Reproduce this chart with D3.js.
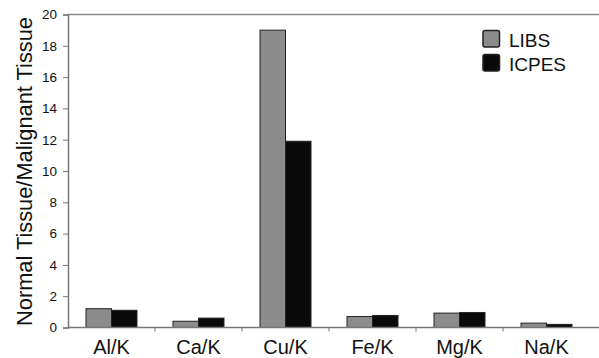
<!DOCTYPE html>
<html><head><meta charset="utf-8">
<script src="https://cdn.jsdelivr.net/npm/d3@7"></script>
<style>body{margin:0;background:#fff}svg{display:block}text{font-family:"Liberation Sans",Arial,sans-serif}</style>
</head><body>
<svg id="c" width="599" height="358"></svg>
<script>
const categories = ["Al/K","Ca/K","Cu/K","Fe/K","Mg/K","Na/K"];
const seriesNames = ["LIBS","ICPES"];
const libs = [1.2, 0.4, 19.0, 0.7, 0.92, 0.28];
const icpes = [1.1, 0.6, 11.9, 0.77, 0.96, 0.2];
const yTicks = [0,2,4,6,8,10,12,14,16,18,20];
const colors = {LIBS:"#8c8c8c", ICPES:"#0a0a0a"};

const svg = d3.select("#c");
const mLeft = 68, mRight = 590, mTop = 14.5, mBottom = 327.5;
const x0 = d3.scaleBand().domain(categories).range([mLeft, mRight]);
const x1 = d3.scaleBand().domain(seriesNames).range([0, x0.bandwidth()]).paddingOuter(0.706);
const y = d3.scaleLinear().domain([0,20]).range([mBottom, mTop]);
const vals = {LIBS: libs, ICPES: icpes};

// top frame line
svg.append("line").attr("x1", mLeft).attr("x2", 599).attr("y1", mTop).attr("y2", mTop)
  .attr("stroke","#8a8a8a").attr("stroke-width",1.5);

// bars
categories.forEach((c,i)=>{
  seriesNames.forEach(s=>{
    const v = vals[s][i];
    svg.append("rect")
      .attr("x", x0(c)+x1(s)).attr("width", x1.bandwidth())
      .attr("y", y(v)).attr("height", y(0)-y(v))
      .attr("fill", colors[s]).attr("stroke","#222").attr("stroke-width",1);
  });
});

// y axis
const ya = svg.append("g").attr("transform",`translate(${mLeft},0)`)
  .call(d3.axisLeft(y).tickValues(yTicks).tickSize(5).tickPadding(6));
ya.select(".domain").attr("stroke","#777").attr("stroke-width",1.5);
ya.selectAll(".tick line").attr("stroke","#777");
ya.selectAll("text").attr("font-size",13.5).attr("fill","#111");

// x axis
const xa = svg.append("g").attr("transform",`translate(0,${mBottom})`)
  .call(d3.axisBottom(x0).tickSize(0));
xa.select(".domain").attr("d",`M${mLeft},0H599`).attr("stroke","#777").attr("stroke-width",1.5);
xa.selectAll("text").attr("font-size",20).attr("fill","#111").attr("dy",0).attr("y",26);
// category separator ticks
xa.selectAll(".sep").data(categories.slice(1)).enter().append("line").attr("class","sep")
  .attr("x1",d=>x0(d)).attr("x2",d=>x0(d)).attr("y1",0).attr("y2",4).attr("stroke","#777");

// y title
svg.append("text").attr("transform",`translate(32,${(mTop+mBottom)/2 + 0.5}) rotate(-90)`)
  .attr("text-anchor","middle").attr("font-size",21.8).attr("fill","#111")
  .text("Normal Tissue/Malignant Tissue");

// legend
const lg = svg.append("g");
seriesNames.forEach((s,i)=>{
  lg.append("rect").attr("x",483).attr("y",30.5+i*24).attr("width",16.5).attr("height",16.5).attr("rx",2)
    .attr("fill",colors[s]).attr("stroke","#222").attr("stroke-width",1.5);
  lg.append("text").attr("x",509).attr("y",47+i*24).attr("font-size",19).attr("fill","#111").text(s);
});
</script>
</body></html>
